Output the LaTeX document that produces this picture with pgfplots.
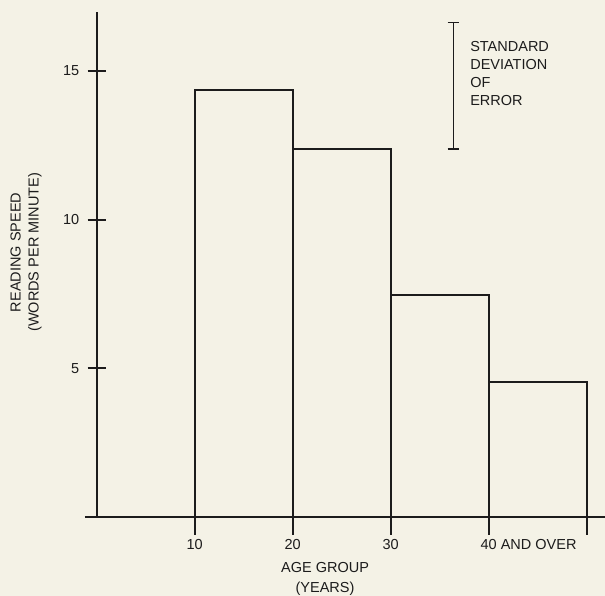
\documentclass[border=0pt]{standalone}
\usepackage{pgfplots}
\pgfplotsset{compat=1.18}
\usepackage{fontspec}
\setmainfont{Liberation Sans}
\definecolor{bg}{RGB}{244,242,230}
\definecolor{ink}{RGB}{28,28,28}
\begin{document}
\begin{tikzpicture}
\path[use as bounding box, fill=bg] (-96.7pt,-79pt) rectangle (508.3pt,517pt);
\begin{axis}[
  anchor=origin, at={(0pt,0pt)},
  x=9.8pt, y=29.73pt,
  xmin=-1.2, xmax=51.9, ymin=0, ymax=17,
  axis lines=center,
  axis line style={-, line width=1.7pt, draw=ink},
  x axis line style={-, line width=1.7pt, draw=ink},
  y axis line style={-, line width=1.7pt, draw=ink},
  clip=false,
  xtick={0,10,20,30,40,50},
  xticklabels={,10,20,30,40\rlap{ AND OVER},},
  ytick={5,10,15},
  yticklabels={5,10,15},
  xtick align=outside,
  ytick align=center,
  major tick length=18pt,
  tick style={line width=1.7pt, draw=ink},
  font=\fontsize{14.5}{18}\selectfont,
  ticklabel style={font=\fontsize{14.5}{18}\selectfont, text=ink},
  xticklabel style={yshift=-1pt},
  yticklabel style={xshift=-5pt},
  /pgf/number format/assume math mode=true,
  unbounded coords=jump,
]
% bars: reading speed per age group
\addplot[ybar interval, draw=ink, fill=none, line width=1.7pt]
  coordinates {(10,14.36) (20,12.38) (30,7.47) (40,4.53) (50,0)};
% standard deviation of error bar (12.37 to 16.63)
\addplot[draw=ink, line width=1.7pt, mark=none, forget plot]
  coordinates {(35.8,16.63) (37.0,16.63) (36.4,nan) (36.4,16.63) (36.4,12.37) (36.4,nan) (35.8,12.37) (37.0,12.37)};
\node[anchor=north west, align=left, text=ink, inner sep=0pt,
  font=\fontsize{14.5}{18}\selectfont] at (axis cs:38.1,16.0)
  {STANDARD\\DEVIATION\\OF\\ERROR};
\node[rotate=90, align=center, text=ink, inner sep=0pt,
  font=\fontsize{14.5}{18}\selectfont] at (axis cs:-7.2,8.9)
  {READING SPEED\\(WORDS PER MINUTE)};
\node[anchor=north, align=center, text=ink, inner sep=0pt,
  font=\fontsize{14.5}{20}\selectfont] at (axis cs:23.3,-1.52)
  {AGE GROUP\\(YEARS)};
\end{axis}
\end{tikzpicture}
\end{document}
